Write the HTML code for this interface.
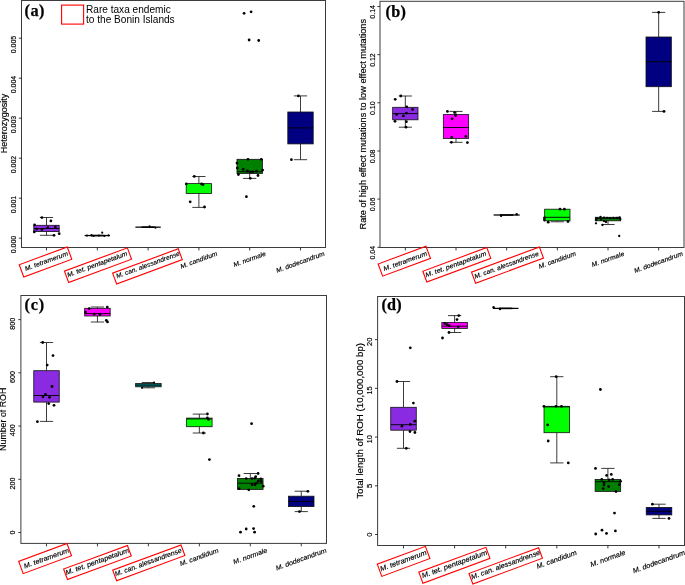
<!DOCTYPE html>
<html><head><meta charset="utf-8"><title>Figure</title>
<style>html,body{margin:0;padding:0;background:#fff;}svg{display:block;will-change:transform;}.s{stroke:#000;stroke-width:0.16px;}</style>
</head><body>
<svg width="685" height="585" viewBox="0 0 685 585" font-family="'Liberation Sans', sans-serif" fill="#000">
<rect width="685" height="585" fill="#fff"/>
<rect x="21.5" y="0.5" width="304.00" height="247.00" fill="none" stroke="#3c3c3c" stroke-width="1.0"/>
<path d="M46.50 247.50V250.40" stroke="#222" stroke-width="0.9"/>
<text class="s" transform="translate(46.50,261.57) rotate(-20.0)" x="0" y="1.63" text-anchor="middle" font-style="italic" font-size="6.40" textLength="45.5" lengthAdjust="spacingAndGlyphs">M. tetramerum</text>
<path d="M97.30 247.50V250.40" stroke="#222" stroke-width="0.9"/>
<text class="s" transform="translate(97.30,264.70) rotate(-20.0)" x="0" y="1.63" text-anchor="middle" font-style="italic" font-size="6.40" textLength="63.8" lengthAdjust="spacingAndGlyphs">M. tet. pentapetalum</text>
<path d="M148.10 247.50V250.40" stroke="#222" stroke-width="0.9"/>
<text class="s" transform="translate(148.10,265.31) rotate(-20.0)" x="0" y="1.63" text-anchor="middle" font-style="italic" font-size="6.40" textLength="67.4" lengthAdjust="spacingAndGlyphs">M. can. alessandrense</text>
<path d="M198.90 247.50V250.40" stroke="#222" stroke-width="0.9"/>
<text class="s" transform="translate(198.90,260.45) rotate(-20.0)" x="0" y="1.63" text-anchor="middle" font-style="italic" font-size="6.40" textLength="39.0" lengthAdjust="spacingAndGlyphs">M. candidum</text>
<path d="M249.70 247.50V250.40" stroke="#222" stroke-width="0.9"/>
<text class="s" transform="translate(249.70,259.61) rotate(-20.0)" x="0" y="1.63" text-anchor="middle" font-style="italic" font-size="6.40" textLength="34.0" lengthAdjust="spacingAndGlyphs">M. normale</text>
<path d="M300.50 247.50V250.40" stroke="#222" stroke-width="0.9"/>
<text class="s" transform="translate(300.50,262.51) rotate(-20.0)" x="0" y="1.63" text-anchor="middle" font-style="italic" font-size="6.40" textLength="51.0" lengthAdjust="spacingAndGlyphs">M. dodecandrum</text>
<rect transform="translate(45.50,262.00) rotate(-20.3)" x="-25.60" y="-6.55" width="51.20" height="13.10" fill="none" stroke="#f00" stroke-width="1.1"/>
<rect transform="translate(98.00,265.20) rotate(-20.3)" x="-33.55" y="-6.05" width="67.10" height="12.10" fill="none" stroke="#f00" stroke-width="1.1"/>
<rect transform="translate(147.45,266.40) rotate(-20.3)" x="-35.00" y="-5.80" width="70.00" height="11.60" fill="none" stroke="#f00" stroke-width="1.1"/>
<path d="M18.90 238.20H21.50" stroke="#222" stroke-width="0.9"/>
<text class="s" transform="translate(16.00,235.90) rotate(-90)" text-anchor="end" font-size="6.52" textLength="17.3" lengthAdjust="spacingAndGlyphs">0.000</text>
<path d="M18.90 198.20H21.50" stroke="#222" stroke-width="0.9"/>
<text class="s" transform="translate(16.00,195.90) rotate(-90)" text-anchor="end" font-size="6.52" textLength="17.3" lengthAdjust="spacingAndGlyphs">0.001</text>
<path d="M18.90 158.20H21.50" stroke="#222" stroke-width="0.9"/>
<text class="s" transform="translate(16.00,155.90) rotate(-90)" text-anchor="end" font-size="6.52" textLength="17.3" lengthAdjust="spacingAndGlyphs">0.002</text>
<path d="M18.90 118.20H21.50" stroke="#222" stroke-width="0.9"/>
<text class="s" transform="translate(16.00,115.90) rotate(-90)" text-anchor="end" font-size="6.52" textLength="17.3" lengthAdjust="spacingAndGlyphs">0.003</text>
<path d="M18.90 78.20H21.50" stroke="#222" stroke-width="0.9"/>
<text class="s" transform="translate(16.00,75.90) rotate(-90)" text-anchor="end" font-size="6.52" textLength="17.3" lengthAdjust="spacingAndGlyphs">0.004</text>
<path d="M18.90 38.20H21.50" stroke="#222" stroke-width="0.9"/>
<text class="s" transform="translate(16.00,35.90) rotate(-90)" text-anchor="end" font-size="6.52" textLength="17.3" lengthAdjust="spacingAndGlyphs">0.005</text>
<text class="s" transform="translate(6.60,123.50) rotate(-90)" text-anchor="middle" font-size="8.19" textLength="59.5" lengthAdjust="spacingAndGlyphs">Heterozygosity</text>
<text x="24.6" y="16.4" font-family="'Liberation Serif', serif" font-weight="bold" font-size="16.2" textLength="19.8" lengthAdjust="spacing" stroke="#000" stroke-width="0.25">(a)</text>
<rect x="61.6" y="5.1" width="22" height="19" fill="none" stroke="#f00" stroke-width="1.1"/>
<text x="86.0" y="12.6" font-size="10.1">Rare taxa endemic</text>
<text x="86.0" y="22.9" font-size="10.1">to the Bonin Islands</text>
<path d="M46.50 225.30V217.50M39.90 217.50H53.10" stroke="#1a1a1a" stroke-width="0.85" fill="none"/>
<path d="M46.50 231.60V235.30M39.90 235.30H53.10" stroke="#1a1a1a" stroke-width="0.85" fill="none"/>
<rect x="33.80" y="225.30" width="25.40" height="6.30" fill="#8A2BE2" stroke="#111" stroke-width="0.8"/>
<path d="M33.80 228.50H59.20" stroke="#000" stroke-width="0.9" fill="none"/>
<circle cx="41.9" cy="217.6" r="1.38" fill="#000"/>
<circle cx="50.9" cy="220.9" r="1.38" fill="#000"/>
<circle cx="34.6" cy="224.8" r="1.38" fill="#000"/>
<circle cx="34.3" cy="231.9" r="1.38" fill="#000"/>
<circle cx="47.8" cy="227.7" r="1.38" fill="#000"/>
<circle cx="55.3" cy="226.9" r="1.38" fill="#000"/>
<circle cx="36.7" cy="229.1" r="1.38" fill="#000"/>
<circle cx="41.9" cy="229.6" r="1.38" fill="#000"/>
<circle cx="59.2" cy="233.7" r="1.38" fill="#000"/>
<circle cx="54.0" cy="235.3" r="1.38" fill="#000"/>
<path d="M84.60 235.55H110.00" stroke="#000" stroke-width="1.25" fill="none"/>
<path d="M90.70 235.55H103.90" stroke="#000" stroke-width="1.6" fill="none"/>
<circle cx="87.0" cy="235.6" r="1.1" fill="#000"/>
<circle cx="91.5" cy="235.2" r="1.1" fill="#000"/>
<circle cx="93.5" cy="236.0" r="1.1" fill="#000"/>
<circle cx="99.0" cy="235.6" r="1.1" fill="#000"/>
<circle cx="102.2" cy="232.7" r="1.1" fill="#000"/>
<circle cx="104.5" cy="235.9" r="1.1" fill="#000"/>
<circle cx="108.5" cy="235.4" r="1.1" fill="#000"/>
<path d="M135.40 227.15H160.80" stroke="#000" stroke-width="1.25" fill="none"/>
<path d="M141.50 227.15H154.70" stroke="#000" stroke-width="1.6" fill="none"/>
<circle cx="149.5" cy="226.3" r="1.0" fill="#000"/>
<circle cx="155.5" cy="227.8" r="1.0" fill="#000"/>
<path d="M198.90 183.60V176.50M192.30 176.50H205.50" stroke="#1a1a1a" stroke-width="0.85" fill="none"/>
<path d="M198.90 193.50V207.40M192.30 207.40H205.50" stroke="#1a1a1a" stroke-width="0.85" fill="none"/>
<rect x="186.20" y="183.60" width="25.40" height="9.90" fill="#00FF00" stroke="#111" stroke-width="0.8"/>
<circle cx="194.3" cy="176.4" r="1.38" fill="#000"/>
<circle cx="186.3" cy="183.9" r="1.38" fill="#000"/>
<circle cx="201.5" cy="184.0" r="1.38" fill="#000"/>
<circle cx="203.0" cy="184.6" r="1.38" fill="#000"/>
<circle cx="190.2" cy="201.8" r="1.38" fill="#000"/>
<circle cx="204.5" cy="207.0" r="1.38" fill="#000"/>
<path d="M249.70 173.50V178.40M243.10 178.40H256.30" stroke="#1a1a1a" stroke-width="0.85" fill="none"/>
<rect x="237.00" y="159.30" width="25.40" height="14.20" fill="#008000" stroke="#111" stroke-width="0.8"/>
<path d="M237.00 171.70H262.40" stroke="#000" stroke-width="0.9" fill="none"/>
<circle cx="248.0" cy="159.3" r="1.38" fill="#000"/>
<circle cx="261.3" cy="159.3" r="1.38" fill="#000"/>
<circle cx="237.0" cy="163.1" r="1.38" fill="#000"/>
<circle cx="237.3" cy="168.1" r="1.38" fill="#000"/>
<circle cx="243.2" cy="169.3" r="1.38" fill="#000"/>
<circle cx="247.3" cy="171.0" r="1.38" fill="#000"/>
<circle cx="250.2" cy="171.9" r="1.38" fill="#000"/>
<circle cx="252.7" cy="171.9" r="1.38" fill="#000"/>
<circle cx="256.5" cy="171.2" r="1.38" fill="#000"/>
<circle cx="262.6" cy="170.1" r="1.38" fill="#000"/>
<circle cx="238.4" cy="174.5" r="1.38" fill="#000"/>
<circle cx="258.0" cy="175.5" r="1.38" fill="#000"/>
<circle cx="250.3" cy="178.3" r="1.38" fill="#000"/>
<circle cx="246.4" cy="196.7" r="1.38" fill="#000"/>
<circle cx="244.1" cy="13.3" r="1.38" fill="#000"/>
<circle cx="251.1" cy="11.8" r="1.38" fill="#000"/>
<circle cx="249.1" cy="40.0" r="1.38" fill="#000"/>
<circle cx="258.7" cy="40.5" r="1.38" fill="#000"/>
<path d="M300.50 112.00V95.90M293.90 95.90H307.10" stroke="#1a1a1a" stroke-width="0.85" fill="none"/>
<path d="M300.50 143.90V159.70M293.90 159.70H307.10" stroke="#1a1a1a" stroke-width="0.85" fill="none"/>
<rect x="287.80" y="112.00" width="25.40" height="31.90" fill="#000080" stroke="#111" stroke-width="0.8"/>
<path d="M287.80 127.90H313.20" stroke="#000" stroke-width="0.9" fill="none"/>
<circle cx="298.4" cy="95.9" r="1.38" fill="#000"/>
<circle cx="291.4" cy="159.7" r="1.38" fill="#000"/>
<rect x="380.0" y="1.3" width="304.00" height="246.20" fill="none" stroke="#3c3c3c" stroke-width="1.0"/>
<path d="M405.33 247.50V250.40" stroke="#222" stroke-width="0.9"/>
<text class="s" transform="translate(405.33,261.64) rotate(-20.0)" x="0" y="1.65" text-anchor="middle" font-style="italic" font-size="6.47" textLength="45.9" lengthAdjust="spacingAndGlyphs">M. tetramerum</text>
<path d="M456.00 247.50V250.40" stroke="#222" stroke-width="0.9"/>
<text class="s" transform="translate(456.00,264.81) rotate(-20.0)" x="0" y="1.65" text-anchor="middle" font-style="italic" font-size="6.47" textLength="64.4" lengthAdjust="spacingAndGlyphs">M. tet. pentapetalum</text>
<path d="M506.67 247.50V250.40" stroke="#222" stroke-width="0.9"/>
<text class="s" transform="translate(506.67,265.43) rotate(-20.0)" x="0" y="1.65" text-anchor="middle" font-style="italic" font-size="6.47" textLength="68.1" lengthAdjust="spacingAndGlyphs">M. can. alessandrense</text>
<path d="M557.33 247.50V250.40" stroke="#222" stroke-width="0.9"/>
<text class="s" transform="translate(557.33,260.52) rotate(-20.0)" x="0" y="1.65" text-anchor="middle" font-style="italic" font-size="6.47" textLength="39.4" lengthAdjust="spacingAndGlyphs">M. candidum</text>
<path d="M608.00 247.50V250.40" stroke="#222" stroke-width="0.9"/>
<text class="s" transform="translate(608.00,259.67) rotate(-20.0)" x="0" y="1.65" text-anchor="middle" font-style="italic" font-size="6.47" textLength="34.4" lengthAdjust="spacingAndGlyphs">M. normale</text>
<path d="M658.67 247.50V250.40" stroke="#222" stroke-width="0.9"/>
<text class="s" transform="translate(658.67,262.60) rotate(-20.0)" x="0" y="1.65" text-anchor="middle" font-style="italic" font-size="6.47" textLength="51.5" lengthAdjust="spacingAndGlyphs">M. dodecandrum</text>
<rect transform="translate(404.30,261.20) rotate(-20.3)" x="-25.50" y="-6.50" width="51.00" height="13.00" fill="none" stroke="#f00" stroke-width="1.1"/>
<rect transform="translate(456.80,264.80) rotate(-20.3)" x="-34.10" y="-5.75" width="68.20" height="11.50" fill="none" stroke="#f00" stroke-width="1.1"/>
<rect transform="translate(507.50,265.10) rotate(-20.3)" x="-36.20" y="-5.90" width="72.40" height="11.80" fill="none" stroke="#f00" stroke-width="1.1"/>
<path d="M377.40 247.30H380.00" stroke="#222" stroke-width="0.9"/>
<text class="s" transform="translate(374.50,245.90) rotate(-90)" text-anchor="end" font-size="6.59" textLength="13.6" lengthAdjust="spacingAndGlyphs">0.04</text>
<path d="M377.40 199.10H380.00" stroke="#222" stroke-width="0.9"/>
<text class="s" transform="translate(374.50,197.70) rotate(-90)" text-anchor="end" font-size="6.59" textLength="13.6" lengthAdjust="spacingAndGlyphs">0.06</text>
<path d="M377.40 151.00H380.00" stroke="#222" stroke-width="0.9"/>
<text class="s" transform="translate(374.50,149.60) rotate(-90)" text-anchor="end" font-size="6.59" textLength="13.6" lengthAdjust="spacingAndGlyphs">0.08</text>
<path d="M377.40 102.80H380.00" stroke="#222" stroke-width="0.9"/>
<text class="s" transform="translate(374.50,101.40) rotate(-90)" text-anchor="end" font-size="6.59" textLength="13.6" lengthAdjust="spacingAndGlyphs">0.10</text>
<path d="M377.40 54.65H380.00" stroke="#222" stroke-width="0.9"/>
<text class="s" transform="translate(374.50,53.25) rotate(-90)" text-anchor="end" font-size="6.59" textLength="13.6" lengthAdjust="spacingAndGlyphs">0.12</text>
<path d="M377.40 6.50H380.00" stroke="#222" stroke-width="0.9"/>
<text class="s" transform="translate(374.50,5.10) rotate(-90)" text-anchor="end" font-size="6.59" textLength="13.6" lengthAdjust="spacingAndGlyphs">0.14</text>
<text class="s" transform="translate(365.60,124.20) rotate(-90)" text-anchor="middle" font-size="8.29" textLength="210.5" lengthAdjust="spacingAndGlyphs">Rate of high effect mutations to low effect mutations</text>
<text x="385.5" y="16.8" font-family="'Liberation Serif', serif" font-weight="bold" font-size="16.2" textLength="20.4" lengthAdjust="spacing" stroke="#000" stroke-width="0.25">(b)</text>
<path d="M405.33 107.30V96.00M398.75 96.00H411.92" stroke="#1a1a1a" stroke-width="0.85" fill="none"/>
<path d="M405.33 119.80V127.20M398.75 127.20H411.92" stroke="#1a1a1a" stroke-width="0.85" fill="none"/>
<rect x="392.67" y="107.30" width="25.33" height="12.50" fill="#8A2BE2" stroke="#111" stroke-width="0.8"/>
<path d="M392.67 113.60H418.00" stroke="#000" stroke-width="0.9" fill="none"/>
<circle cx="400.8" cy="96.0" r="1.38" fill="#000"/>
<circle cx="395.2" cy="99.3" r="1.38" fill="#000"/>
<circle cx="406.7" cy="106.8" r="1.38" fill="#000"/>
<circle cx="412.6" cy="109.4" r="1.38" fill="#000"/>
<circle cx="406.4" cy="113.1" r="1.38" fill="#000"/>
<circle cx="396.6" cy="114.4" r="1.38" fill="#000"/>
<circle cx="403.4" cy="115.9" r="1.38" fill="#000"/>
<circle cx="395.0" cy="121.3" r="1.38" fill="#000"/>
<circle cx="406.4" cy="121.7" r="1.38" fill="#000"/>
<circle cx="406.0" cy="127.2" r="1.38" fill="#000"/>
<path d="M456.00 114.60V111.40M449.41 111.40H462.59" stroke="#1a1a1a" stroke-width="0.85" fill="none"/>
<path d="M456.00 138.50V142.30M449.41 142.30H462.59" stroke="#1a1a1a" stroke-width="0.85" fill="none"/>
<rect x="443.33" y="114.60" width="25.33" height="23.90" fill="#FF00FF" stroke="#111" stroke-width="0.8"/>
<path d="M443.33 127.50H468.67" stroke="#000" stroke-width="0.9" fill="none"/>
<circle cx="447.4" cy="111.4" r="1.38" fill="#000"/>
<circle cx="454.6" cy="112.6" r="1.38" fill="#000"/>
<circle cx="455.6" cy="115.4" r="1.38" fill="#000"/>
<circle cx="452.1" cy="118.8" r="1.38" fill="#000"/>
<circle cx="451.8" cy="137.3" r="1.38" fill="#000"/>
<circle cx="465.8" cy="136.3" r="1.38" fill="#000"/>
<circle cx="451.4" cy="142.3" r="1.38" fill="#000"/>
<circle cx="467.4" cy="142.6" r="1.38" fill="#000"/>
<path d="M493.62 215.00H519.71" stroke="#000" stroke-width="1.25" fill="none"/>
<path d="M499.88 215.00H513.45" stroke="#000" stroke-width="1.6" fill="none"/>
<circle cx="501.1" cy="215.8" r="1.25" fill="#000"/>
<circle cx="516.6" cy="214.3" r="1.25" fill="#000"/>
<path d="M557.33 220.80V221.80M550.75 221.80H563.92" stroke="#1a1a1a" stroke-width="0.85" fill="none"/>
<rect x="544.67" y="209.20" width="25.33" height="11.60" fill="#00FF00" stroke="#111" stroke-width="0.8"/>
<path d="M544.67 217.30H570.00" stroke="#000" stroke-width="0.9" fill="none"/>
<circle cx="560.0" cy="209.2" r="1.38" fill="#000"/>
<circle cx="564.4" cy="209.2" r="1.38" fill="#000"/>
<circle cx="544.4" cy="218.0" r="1.38" fill="#000"/>
<circle cx="544.4" cy="220.1" r="1.38" fill="#000"/>
<circle cx="548.2" cy="222.2" r="1.38" fill="#000"/>
<circle cx="568.0" cy="221.5" r="1.38" fill="#000"/>
<path d="M608.00 220.80V224.50M601.41 224.50H614.59" stroke="#1a1a1a" stroke-width="0.85" fill="none"/>
<rect x="595.33" y="217.30" width="25.33" height="3.50" fill="#008000" stroke="#111" stroke-width="0.8"/>
<path d="M595.33 218.30H620.67" stroke="#000" stroke-width="0.9" fill="none"/>
<circle cx="597.0" cy="218.5" r="1.15" fill="#000"/>
<circle cx="600.5" cy="217.0" r="1.15" fill="#000"/>
<circle cx="604.0" cy="217.6" r="1.15" fill="#000"/>
<circle cx="607.0" cy="217.8" r="1.15" fill="#000"/>
<circle cx="610.0" cy="218.2" r="1.15" fill="#000"/>
<circle cx="613.5" cy="218.0" r="1.15" fill="#000"/>
<circle cx="617.0" cy="218.0" r="1.15" fill="#000"/>
<circle cx="619.5" cy="217.3" r="1.15" fill="#000"/>
<circle cx="620.3" cy="219.2" r="1.15" fill="#000"/>
<circle cx="596.0" cy="220.0" r="1.15" fill="#000"/>
<circle cx="601.0" cy="219.6" r="1.15" fill="#000"/>
<circle cx="604.0" cy="221.0" r="1.15" fill="#000"/>
<circle cx="606.0" cy="222.0" r="1.15" fill="#000"/>
<circle cx="596.0" cy="223.3" r="1.15" fill="#000"/>
<circle cx="602.5" cy="225.0" r="1.15" fill="#000"/>
<circle cx="619.2" cy="236.0" r="1.15" fill="#000"/>
<path d="M658.67 37.00V12.40M652.08 12.40H665.25" stroke="#1a1a1a" stroke-width="0.85" fill="none"/>
<path d="M658.67 86.70V111.40M652.08 111.40H665.25" stroke="#1a1a1a" stroke-width="0.85" fill="none"/>
<rect x="646.00" y="37.00" width="25.33" height="49.70" fill="#000080" stroke="#111" stroke-width="0.8"/>
<path d="M646.00 61.70H671.33" stroke="#000" stroke-width="0.9" fill="none"/>
<circle cx="658.7" cy="12.3" r="1.38" fill="#000"/>
<circle cx="664.0" cy="111.4" r="1.38" fill="#000"/>
<rect x="20.9" y="295.5" width="305.60" height="247.90" fill="none" stroke="#3c3c3c" stroke-width="1.0"/>
<path d="M46.50 543.40V546.30" stroke="#222" stroke-width="0.9"/>
<text class="s" transform="translate(46.50,558.64) rotate(-20.0)" x="0" y="1.71" text-anchor="middle" font-style="italic" font-size="6.71" textLength="47.7" lengthAdjust="spacingAndGlyphs">M. tetramerum</text>
<path d="M97.45 543.40V546.30" stroke="#222" stroke-width="0.9"/>
<text class="s" transform="translate(97.45,561.92) rotate(-20.0)" x="0" y="1.71" text-anchor="middle" font-style="italic" font-size="6.71" textLength="66.9" lengthAdjust="spacingAndGlyphs">M. tet. pentapetalum</text>
<path d="M148.40 543.40V546.30" stroke="#222" stroke-width="0.9"/>
<text class="s" transform="translate(148.40,562.57) rotate(-20.0)" x="0" y="1.71" text-anchor="middle" font-style="italic" font-size="6.71" textLength="70.6" lengthAdjust="spacingAndGlyphs">M. can. alessandrense</text>
<path d="M199.35 543.40V546.30" stroke="#222" stroke-width="0.9"/>
<text class="s" transform="translate(199.35,557.47) rotate(-20.0)" x="0" y="1.71" text-anchor="middle" font-style="italic" font-size="6.71" textLength="40.8" lengthAdjust="spacingAndGlyphs">M. candidum</text>
<path d="M250.30 543.40V546.30" stroke="#222" stroke-width="0.9"/>
<text class="s" transform="translate(250.30,556.59) rotate(-20.0)" x="0" y="1.71" text-anchor="middle" font-style="italic" font-size="6.71" textLength="35.7" lengthAdjust="spacingAndGlyphs">M. normale</text>
<path d="M301.25 543.40V546.30" stroke="#222" stroke-width="0.9"/>
<text class="s" transform="translate(301.25,559.63) rotate(-20.0)" x="0" y="1.71" text-anchor="middle" font-style="italic" font-size="6.71" textLength="53.5" lengthAdjust="spacingAndGlyphs">M. dodecandrum</text>
<rect transform="translate(45.10,558.60) rotate(-20.3)" x="-25.75" y="-6.50" width="51.50" height="13.00" fill="none" stroke="#f00" stroke-width="1.1"/>
<rect transform="translate(97.45,562.50) rotate(-20.3)" x="-34.00" y="-5.60" width="68.00" height="11.20" fill="none" stroke="#f00" stroke-width="1.1"/>
<rect transform="translate(148.80,562.85) rotate(-20.3)" x="-36.40" y="-5.65" width="72.80" height="11.30" fill="none" stroke="#f00" stroke-width="1.1"/>
<path d="M18.30 532.50H20.90" stroke="#222" stroke-width="0.9"/>
<text class="s" transform="translate(15.40,530.60) rotate(-90)" text-anchor="end" font-size="6.84" textLength="4.0" lengthAdjust="spacingAndGlyphs">0</text>
<path d="M18.30 479.30H20.90" stroke="#222" stroke-width="0.9"/>
<text class="s" transform="translate(15.40,477.40) rotate(-90)" text-anchor="end" font-size="6.84" textLength="12.1" lengthAdjust="spacingAndGlyphs">200</text>
<path d="M18.30 426.05H20.90" stroke="#222" stroke-width="0.9"/>
<text class="s" transform="translate(15.40,424.15) rotate(-90)" text-anchor="end" font-size="6.84" textLength="12.1" lengthAdjust="spacingAndGlyphs">400</text>
<path d="M18.30 372.80H20.90" stroke="#222" stroke-width="0.9"/>
<text class="s" transform="translate(15.40,370.90) rotate(-90)" text-anchor="end" font-size="6.84" textLength="12.1" lengthAdjust="spacingAndGlyphs">600</text>
<path d="M18.30 319.60H20.90" stroke="#222" stroke-width="0.9"/>
<text class="s" transform="translate(15.40,317.70) rotate(-90)" text-anchor="end" font-size="6.84" textLength="12.1" lengthAdjust="spacingAndGlyphs">800</text>
<text class="s" transform="translate(6.10,419.30) rotate(-90)" text-anchor="middle" font-size="8.51" textLength="63.2" lengthAdjust="spacingAndGlyphs">Number of ROH</text>
<text x="24.6" y="310.3" font-family="'Liberation Serif', serif" font-weight="bold" font-size="16.2" textLength="19.5" lengthAdjust="spacing" stroke="#000" stroke-width="0.25">(c)</text>
<path d="M46.50 370.70V342.50M39.88 342.50H53.12" stroke="#1a1a1a" stroke-width="0.85" fill="none"/>
<path d="M46.50 402.10V421.40M39.88 421.40H53.12" stroke="#1a1a1a" stroke-width="0.85" fill="none"/>
<rect x="33.76" y="370.70" width="25.48" height="31.40" fill="#8A2BE2" stroke="#111" stroke-width="0.8"/>
<path d="M33.76 395.50H59.24" stroke="#000" stroke-width="0.9" fill="none"/>
<circle cx="42.7" cy="342.5" r="1.38" fill="#000"/>
<circle cx="53.0" cy="355.6" r="1.38" fill="#000"/>
<circle cx="47.2" cy="365.1" r="1.38" fill="#000"/>
<circle cx="52.0" cy="386.5" r="1.38" fill="#000"/>
<circle cx="45.5" cy="394.5" r="1.38" fill="#000"/>
<circle cx="43.0" cy="396.8" r="1.38" fill="#000"/>
<circle cx="49.5" cy="397.3" r="1.38" fill="#000"/>
<circle cx="48.7" cy="403.6" r="1.38" fill="#000"/>
<circle cx="54.0" cy="405.3" r="1.38" fill="#000"/>
<circle cx="37.4" cy="421.7" r="1.38" fill="#000"/>
<path d="M97.45 308.30V307.00M90.83 307.00H104.07" stroke="#1a1a1a" stroke-width="0.85" fill="none"/>
<path d="M97.45 316.00V322.00M90.83 322.00H104.07" stroke="#1a1a1a" stroke-width="0.85" fill="none"/>
<rect x="84.71" y="308.30" width="25.48" height="7.70" fill="#FF00FF" stroke="#111" stroke-width="0.8"/>
<path d="M84.71 313.60H110.19" stroke="#000" stroke-width="0.9" fill="none"/>
<circle cx="85.4" cy="312.1" r="1.38" fill="#000"/>
<circle cx="89.2" cy="308.6" r="1.38" fill="#000"/>
<circle cx="94.2" cy="314.1" r="1.38" fill="#000"/>
<circle cx="100.0" cy="314.4" r="1.38" fill="#000"/>
<circle cx="107.3" cy="307.1" r="1.38" fill="#000"/>
<circle cx="106.3" cy="320.4" r="1.38" fill="#000"/>
<circle cx="107.5" cy="321.9" r="1.38" fill="#000"/>
<path d="M148.40 383.50V382.50M141.78 382.50H155.02" stroke="#1a1a1a" stroke-width="0.85" fill="none"/>
<path d="M148.40 386.80V387.80M141.78 387.80H155.02" stroke="#1a1a1a" stroke-width="0.85" fill="none"/>
<rect x="135.66" y="383.50" width="25.48" height="3.30" fill="#008080" stroke="#111" stroke-width="0.8"/>
<path d="M135.66 385.10H161.14" stroke="#000" stroke-width="0.9" fill="none"/>
<circle cx="154.0" cy="382.5" r="1.1" fill="#000"/>
<circle cx="142.0" cy="387.8" r="1.1" fill="#000"/>
<path d="M199.35 418.10V414.10M192.73 414.10H205.97" stroke="#1a1a1a" stroke-width="0.85" fill="none"/>
<path d="M199.35 426.70V433.00M192.73 433.00H205.97" stroke="#1a1a1a" stroke-width="0.85" fill="none"/>
<rect x="186.61" y="418.10" width="25.48" height="8.60" fill="#00FF00" stroke="#111" stroke-width="0.8"/>
<path d="M186.61 418.90H212.09" stroke="#000" stroke-width="0.9" fill="none"/>
<circle cx="207.4" cy="414.0" r="1.38" fill="#000"/>
<circle cx="207.4" cy="418.0" r="1.38" fill="#000"/>
<circle cx="208.5" cy="419.4" r="1.38" fill="#000"/>
<circle cx="203.4" cy="433.0" r="1.38" fill="#000"/>
<circle cx="209.4" cy="459.6" r="1.38" fill="#000"/>
<path d="M250.30 478.40V473.50M243.68 473.50H256.92" stroke="#1a1a1a" stroke-width="0.85" fill="none"/>
<rect x="237.56" y="478.40" width="25.48" height="11.00" fill="#008000" stroke="#111" stroke-width="0.8"/>
<path d="M237.56 483.20H263.04" stroke="#000" stroke-width="0.9" fill="none"/>
<circle cx="258.1" cy="473.5" r="1.38" fill="#000"/>
<circle cx="239.0" cy="475.7" r="1.38" fill="#000"/>
<circle cx="255.7" cy="476.7" r="1.38" fill="#000"/>
<circle cx="246.2" cy="478.6" r="1.38" fill="#000"/>
<circle cx="252.0" cy="478.6" r="1.38" fill="#000"/>
<circle cx="254.9" cy="478.1" r="1.38" fill="#000"/>
<circle cx="260.8" cy="478.9" r="1.38" fill="#000"/>
<circle cx="258.3" cy="480.8" r="1.38" fill="#000"/>
<circle cx="261.2" cy="481.4" r="1.38" fill="#000"/>
<circle cx="256.4" cy="483.2" r="1.38" fill="#000"/>
<circle cx="252.0" cy="484.7" r="1.38" fill="#000"/>
<circle cx="254.9" cy="484.7" r="1.38" fill="#000"/>
<circle cx="263.2" cy="486.2" r="1.38" fill="#000"/>
<circle cx="239.2" cy="488.6" r="1.38" fill="#000"/>
<circle cx="248.8" cy="489.8" r="1.38" fill="#000"/>
<circle cx="253.8" cy="506.3" r="1.38" fill="#000"/>
<circle cx="240.5" cy="532.2" r="1.38" fill="#000"/>
<circle cx="246.2" cy="529.0" r="1.38" fill="#000"/>
<circle cx="253.6" cy="528.6" r="1.38" fill="#000"/>
<circle cx="254.6" cy="532.2" r="1.38" fill="#000"/>
<circle cx="251.6" cy="423.7" r="1.38" fill="#000"/>
<path d="M301.25 496.20V491.20M294.63 491.20H307.87" stroke="#1a1a1a" stroke-width="0.85" fill="none"/>
<path d="M301.25 506.60V511.60M294.63 511.60H307.87" stroke="#1a1a1a" stroke-width="0.85" fill="none"/>
<rect x="288.51" y="496.20" width="25.48" height="10.40" fill="#000080" stroke="#111" stroke-width="0.8"/>
<path d="M288.51 501.40H313.99" stroke="#000" stroke-width="0.9" fill="none"/>
<circle cx="307.9" cy="491.3" r="1.38" fill="#000"/>
<circle cx="299.5" cy="511.6" r="1.38" fill="#000"/>
<rect x="377.6" y="296.5" width="306.90" height="249.00" fill="none" stroke="#3c3c3c" stroke-width="1.0"/>
<path d="M403.50 545.50V548.40" stroke="#222" stroke-width="0.9"/>
<text class="s" transform="translate(403.50,561.16) rotate(-20.0)" x="0" y="1.77" text-anchor="middle" font-style="italic" font-size="6.93" textLength="49.2" lengthAdjust="spacingAndGlyphs">M. tetramerum</text>
<path d="M454.60 545.50V548.40" stroke="#222" stroke-width="0.9"/>
<text class="s" transform="translate(454.60,564.55) rotate(-20.0)" x="0" y="1.77" text-anchor="middle" font-style="italic" font-size="6.93" textLength="69.1" lengthAdjust="spacingAndGlyphs">M. tet. pentapetalum</text>
<path d="M505.70 545.50V548.40" stroke="#222" stroke-width="0.9"/>
<text class="s" transform="translate(505.70,565.22) rotate(-20.0)" x="0" y="1.77" text-anchor="middle" font-style="italic" font-size="6.93" textLength="73.0" lengthAdjust="spacingAndGlyphs">M. can. alessandrense</text>
<path d="M556.80 545.50V548.40" stroke="#222" stroke-width="0.9"/>
<text class="s" transform="translate(556.80,559.95) rotate(-20.0)" x="0" y="1.77" text-anchor="middle" font-style="italic" font-size="6.93" textLength="42.2" lengthAdjust="spacingAndGlyphs">M. candidum</text>
<path d="M607.90 545.50V548.40" stroke="#222" stroke-width="0.9"/>
<text class="s" transform="translate(607.90,559.04) rotate(-20.0)" x="0" y="1.77" text-anchor="middle" font-style="italic" font-size="6.93" textLength="36.9" lengthAdjust="spacingAndGlyphs">M. normale</text>
<path d="M659.00 545.50V548.40" stroke="#222" stroke-width="0.9"/>
<text class="s" transform="translate(659.00,562.19) rotate(-20.0)" x="0" y="1.77" text-anchor="middle" font-style="italic" font-size="6.93" textLength="55.2" lengthAdjust="spacingAndGlyphs">M. dodecandrum</text>
<rect transform="translate(403.60,561.35) rotate(-20.3)" x="-25.65" y="-6.50" width="51.30" height="13.00" fill="none" stroke="#f00" stroke-width="1.1"/>
<rect transform="translate(454.40,565.30) rotate(-20.3)" x="-35.75" y="-5.90" width="71.50" height="11.80" fill="none" stroke="#f00" stroke-width="1.1"/>
<rect transform="translate(505.70,565.85) rotate(-20.3)" x="-37.10" y="-5.60" width="74.20" height="11.20" fill="none" stroke="#f00" stroke-width="1.1"/>
<path d="M375.00 534.50H377.60" stroke="#222" stroke-width="0.9"/>
<text class="s" transform="translate(372.10,532.50) rotate(-90)" text-anchor="end" font-size="7.06" textLength="4.2" lengthAdjust="spacingAndGlyphs">0</text>
<path d="M375.00 485.80H377.60" stroke="#222" stroke-width="0.9"/>
<text class="s" transform="translate(372.10,483.80) rotate(-90)" text-anchor="end" font-size="7.06" textLength="4.2" lengthAdjust="spacingAndGlyphs">5</text>
<path d="M375.00 437.05H377.60" stroke="#222" stroke-width="0.9"/>
<text class="s" transform="translate(372.10,435.05) rotate(-90)" text-anchor="end" font-size="7.06" textLength="8.3" lengthAdjust="spacingAndGlyphs">10</text>
<path d="M375.00 388.30H377.60" stroke="#222" stroke-width="0.9"/>
<text class="s" transform="translate(372.10,386.30) rotate(-90)" text-anchor="end" font-size="7.06" textLength="8.3" lengthAdjust="spacingAndGlyphs">15</text>
<path d="M375.00 339.60H377.60" stroke="#222" stroke-width="0.9"/>
<text class="s" transform="translate(372.10,337.60) rotate(-90)" text-anchor="end" font-size="7.06" textLength="8.3" lengthAdjust="spacingAndGlyphs">20</text>
<text class="s" transform="translate(363.00,420.90) rotate(-90)" text-anchor="middle" font-size="8.93" textLength="155.8" lengthAdjust="spacingAndGlyphs">Total length of ROH (10,000,000 bp)</text>
<text x="381.5" y="310.4" font-family="'Liberation Serif', serif" font-weight="bold" font-size="16.2" textLength="20.1" lengthAdjust="spacing" stroke="#000" stroke-width="0.25">(d)</text>
<path d="M403.50 407.30V381.50M396.86 381.50H410.14" stroke="#1a1a1a" stroke-width="0.85" fill="none"/>
<path d="M403.50 430.20V448.30M396.86 448.30H410.14" stroke="#1a1a1a" stroke-width="0.85" fill="none"/>
<rect x="390.73" y="407.30" width="25.55" height="22.90" fill="#8A2BE2" stroke="#111" stroke-width="0.8"/>
<path d="M390.73 424.70H416.28" stroke="#000" stroke-width="0.9" fill="none"/>
<circle cx="397.0" cy="381.5" r="1.38" fill="#000"/>
<circle cx="410.3" cy="347.8" r="1.38" fill="#000"/>
<circle cx="413.4" cy="403.1" r="1.38" fill="#000"/>
<circle cx="414.9" cy="421.2" r="1.38" fill="#000"/>
<circle cx="410.3" cy="424.4" r="1.38" fill="#000"/>
<circle cx="402.0" cy="426.2" r="1.38" fill="#000"/>
<circle cx="410.0" cy="431.5" r="1.38" fill="#000"/>
<circle cx="414.9" cy="432.5" r="1.38" fill="#000"/>
<circle cx="406.3" cy="448.3" r="1.38" fill="#000"/>
<path d="M454.60 322.40V315.60M447.96 315.60H461.24" stroke="#1a1a1a" stroke-width="0.85" fill="none"/>
<path d="M454.60 328.40V332.50M447.96 332.50H461.24" stroke="#1a1a1a" stroke-width="0.85" fill="none"/>
<rect x="441.83" y="322.40" width="25.55" height="6.00" fill="#FF00FF" stroke="#111" stroke-width="0.8"/>
<path d="M441.83 326.20H467.38" stroke="#000" stroke-width="0.9" fill="none"/>
<circle cx="458.8" cy="315.6" r="1.38" fill="#000"/>
<circle cx="457.0" cy="319.6" r="1.38" fill="#000"/>
<circle cx="442.5" cy="338.0" r="1.38" fill="#000"/>
<circle cx="449.0" cy="332.5" r="1.38" fill="#000"/>
<circle cx="444.8" cy="323.4" r="1.38" fill="#000"/>
<circle cx="447.0" cy="324.6" r="1.38" fill="#000"/>
<circle cx="449.2" cy="325.7" r="1.38" fill="#000"/>
<circle cx="458.2" cy="326.8" r="1.38" fill="#000"/>
<path d="M492.93 308.40H518.48" stroke="#000" stroke-width="1.25" fill="none"/>
<path d="M499.06 308.40H512.34" stroke="#000" stroke-width="1.6" fill="none"/>
<circle cx="493.6" cy="307.3" r="1.25" fill="#000"/>
<circle cx="500.0" cy="309.1" r="1.25" fill="#000"/>
<path d="M556.80 406.30V376.70M550.16 376.70H563.44" stroke="#1a1a1a" stroke-width="0.85" fill="none"/>
<path d="M556.80 432.70V462.90M550.16 462.90H563.44" stroke="#1a1a1a" stroke-width="0.85" fill="none"/>
<rect x="544.02" y="406.30" width="25.55" height="26.40" fill="#00FF00" stroke="#111" stroke-width="0.8"/>
<path d="M544.02 406.90H569.57" stroke="#000" stroke-width="0.9" fill="none"/>
<circle cx="556.2" cy="376.7" r="1.38" fill="#000"/>
<circle cx="543.9" cy="406.3" r="1.38" fill="#000"/>
<circle cx="556.0" cy="406.3" r="1.38" fill="#000"/>
<circle cx="561.5" cy="406.3" r="1.38" fill="#000"/>
<circle cx="547.7" cy="424.9" r="1.38" fill="#000"/>
<circle cx="548.2" cy="441.0" r="1.38" fill="#000"/>
<circle cx="568.3" cy="462.9" r="1.38" fill="#000"/>
<path d="M607.90 479.40V468.40M601.26 468.40H614.54" stroke="#1a1a1a" stroke-width="0.85" fill="none"/>
<rect x="595.12" y="479.40" width="25.55" height="12.00" fill="#008000" stroke="#111" stroke-width="0.8"/>
<path d="M595.12 481.70H620.67" stroke="#000" stroke-width="0.9" fill="none"/>
<circle cx="595.5" cy="468.4" r="1.38" fill="#000"/>
<circle cx="606.6" cy="475.4" r="1.38" fill="#000"/>
<circle cx="611.3" cy="474.4" r="1.38" fill="#000"/>
<circle cx="601.8" cy="479.4" r="1.38" fill="#000"/>
<circle cx="609.1" cy="479.8" r="1.38" fill="#000"/>
<circle cx="612.7" cy="479.4" r="1.38" fill="#000"/>
<circle cx="620.5" cy="481.3" r="1.38" fill="#000"/>
<circle cx="604.0" cy="482.7" r="1.38" fill="#000"/>
<circle cx="604.0" cy="484.9" r="1.38" fill="#000"/>
<circle cx="619.3" cy="484.6" r="1.38" fill="#000"/>
<circle cx="608.6" cy="486.5" r="1.38" fill="#000"/>
<circle cx="603.2" cy="488.6" r="1.38" fill="#000"/>
<circle cx="616.0" cy="491.5" r="1.38" fill="#000"/>
<circle cx="614.5" cy="513.1" r="1.38" fill="#000"/>
<circle cx="595.7" cy="534.0" r="1.38" fill="#000"/>
<circle cx="602.0" cy="530.2" r="1.38" fill="#000"/>
<circle cx="606.5" cy="533.4" r="1.38" fill="#000"/>
<circle cx="615.4" cy="530.9" r="1.38" fill="#000"/>
<circle cx="600.4" cy="389.5" r="1.38" fill="#000"/>
<path d="M659.00 507.40V504.20M652.36 504.20H665.64" stroke="#1a1a1a" stroke-width="0.85" fill="none"/>
<path d="M659.00 514.90V518.40M652.36 518.40H665.64" stroke="#1a1a1a" stroke-width="0.85" fill="none"/>
<rect x="646.23" y="507.40" width="25.55" height="7.50" fill="#000080" stroke="#111" stroke-width="0.8"/>
<path d="M646.23 511.30H671.77" stroke="#000" stroke-width="0.9" fill="none"/>
<circle cx="652.4" cy="504.2" r="1.38" fill="#000"/>
<circle cx="669.0" cy="518.4" r="1.38" fill="#000"/>
</svg>
</body></html>
